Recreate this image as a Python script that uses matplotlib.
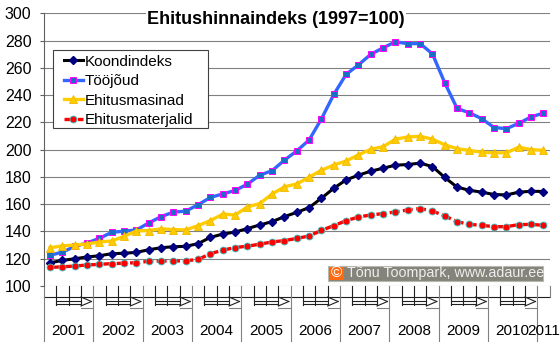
import matplotlib
matplotlib.use("Agg")
import matplotlib.pyplot as plt
import matplotlib.transforms as mtransforms
from matplotlib.patches import Rectangle
import numpy as np

# quarterly values, 2001 Q1 .. 2011 Q1
years = ["2001", "2002", "2003", "2004", "2005", "2006", "2007", "2008", "2009", "2010", "2011"]
koondindeks = [117.0, 118.8, 120.0, 121.3, 122.2, 123.7, 124.0, 124.7, 126.6, 128.1, 128.8,
               129.1, 131.1, 135.7, 138.1, 139.6, 142.1, 144.8, 147.2, 150.9, 154.0, 157.5,
               164.4, 171.7, 177.8, 181.3, 184.2, 186.4, 188.6, 189.1, 190.1, 187.6, 179.6,
               172.5, 170.2, 168.8, 167.1, 166.8, 168.8, 169.5, 169.3]
toojoud = [122.5, 124.9, 129.0, 131.6, 135.0, 139.4, 140.2, 141.1, 146.3, 150.9, 154.2,
           154.9, 159.6, 165.0, 167.5, 170.1, 174.7, 181.3, 184.6, 192.3, 199.1, 207.1,
           222.6, 240.5, 255.2, 262.2, 269.9, 274.7, 279.1, 277.7, 277.8, 270.2, 249.0,
           230.2, 227.0, 222.7, 216.2, 215.4, 219.3, 224.0, 226.8]
masinad = [128.1, 129.4, 130.1, 130.8, 132.3, 133.0, 136.5, 140.4, 140.7, 141.9, 141.4,
           141.1, 144.3, 148.0, 152.7, 152.1, 158.0, 160.5, 167.5, 172.7, 174.9, 179.8,
           184.9, 188.7, 191.7, 196.2, 200.3, 202.2, 207.7, 209.3, 209.8, 207.7, 203.5,
           200.7, 199.4, 198.1, 197.7, 197.7, 201.8, 200.0, 199.5]
materjalid = [113.6, 114.1, 114.6, 115.4, 115.9, 116.4, 116.7, 117.1, 118.1, 118.3, 118.3,
              118.5, 119.5, 123.7, 126.3, 128.2, 129.2, 130.7, 132.3, 133.3, 134.9, 136.7,
              140.8, 144.3, 147.9, 150.6, 152.1, 153.1, 154.3, 155.8, 156.8, 155.0, 151.4,
              147.2, 145.2, 144.5, 143.5, 143.5, 145.0, 145.2, 144.5]
yticks = [100, 120, 140, 160, 180, 200, 220, 240, 260, 280, 300]

plt.rcParams['font.family'] = ['Liberation Sans', 'DejaVu Sans']

W, H = 560, 342
fig = plt.figure(figsize=(W / 100, H / 100), dpi=100)
# plot area in pixels: x 44..549.6, y 13.3..286
ax = fig.add_axes([44 / W, 1 - 286 / H, (549.6 - 44) / W, (286 - 13.3) / H])

x = np.arange(len(koondindeks))
ax.plot(x, koondindeks, color='black', lw=2.2, marker='D', ms=4, mfc='#000080',
        mec='#000080', label='Koondindeks', zorder=3)
ax.plot(x, toojoud, color='#3366ff', lw=2.4, marker='s', ms=5, mfc='#1a6fc4',
        mec='#ff00ff', mew=0.7, label='Tööjõud', zorder=3)
ax.plot(x, masinad, color='#ffcc00', lw=2.4, marker='^', ms=5.5, mfc='#ffcc00',
        mec='#f0b800', mew=0.6, label='Ehitusmasinad', zorder=3)
ax.plot(x, materjalid, color='red', lw=2.4, ls=(0, (3, 1)), marker='o', ms=5, mfc='red',
        mec='#33cccc', mew=0.6, label='Ehitusmaterjalid', zorder=3)

ax.set_xlim(-0.5, len(x) - 0.5)
ax.set_ylim(100, 300)
ax.set_yticks(yticks)
ax.tick_params(axis='y', length=3, width=0.8, color='#606060', pad=6, labelsize=11.5)
ax.set_xticks([])
ax.grid(axis='y', color='#808080', lw=0.8)
for s in ['top', 'right', 'bottom']:
    ax.spines[s].set_visible(False)
ax.spines['left'].set_color('#606060')
ax.spines['left'].set_linewidth(0.8)

# category axis below the plot (quarters and years)
trans = mtransforms.blended_transform_factory(ax.transData, ax.transAxes)


def yf(p):
    return (286 - p) / 272.7


def seg(x0, x1, y0, y1, c='#202020', lw=0.8):
    ax.plot([x0, x1], [yf(y0), yf(y1)], color=c, lw=lw, transform=trans, clip_on=False)


seg(-0.5, len(x) - 0.5, 296.7, 296.7)
for k, yr in enumerate(years):
    xb = -0.5 + 4 * k
    seg(xb, xb, 286, 342, c='#808080')
    if k < len(years) - 1:
        for q in range(1, 4):
            seg(xb + q, xb + q, 286, 305)
        seg(xb + 1, xb + 3, 300.7, 300.7)
        seg(xb + 1, xb + 3, 304, 304)
        seg(xb + 3, xb + 3.85, 297, 301.5)
        seg(xb + 3.85, xb + 3, 301.5, 306)
        seg(xb + 3, xb + 4, 308, 308, c='#808080')
        xc = xb + 2
    else:
        xc = len(x) - 1
    ax.text(xc, yf(331), yr, transform=trans, ha='center', va='center', fontsize=11)
seg(len(x) - 0.5, len(x) - 0.5, 286, 296.7, c='#808080')

# legend frame drawn separately so it keeps the wider box of the original
ax.add_patch(Rectangle(((52.7 - 44) / 505.6, yf(128.3)), (208.3 - 52.7) / 505.6,
                       (128.3 - 50) / 272.7, transform=ax.transAxes, fc='white',
                       ec='#404040', lw=0.8, zorder=4))
leg = ax.legend(loc='upper left', bbox_to_anchor=((60.5 - 44) / 505.6, yf(51)),
                borderaxespad=0, fontsize=11, numpoints=1, handlelength=1.2,
                handletextpad=0.12, labelspacing=0.36, borderpad=0.25, frameon=False)
leg.set_zorder(5)

fig.text(276 / W, 1 - 20 / H, 'Ehitushinnaindeks (1997=100)', ha='center', va='center',
         fontsize=13, fontweight='bold',
         bbox=dict(fc='white', ec='none', pad=1))

# copyright box
fig.patches.append(Rectangle((327.5 / W, 1 - 281 / H), (542.5 - 327.5) / W, 15 / H,
                             transform=fig.transFigure, fc='#84847a', ec='#b8b8b0', lw=0.8))
fig.patches.append(Rectangle((329.5 / W, 1 - 280 / H), 14.5 / W, 13 / H,
                             transform=fig.transFigure, fc='#ff6a10', ec='none'))
fig.text(336.8 / W, 1 - 273.5 / H, '©', ha='center', va='center', color='white', fontsize=11)
fig.text(347 / W, 1 - 273.5 / H, 'Tõnu Toompark, www.adaur.ee', ha='left', va='center',
         color='#eeeeee', fontsize=10.3)

fig.savefig('out.png', dpi=100)
